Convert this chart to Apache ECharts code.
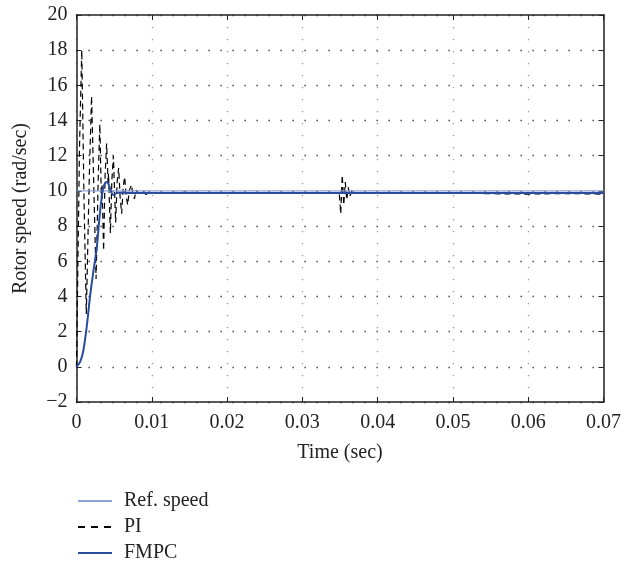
<!DOCTYPE html>
<html>
<head>
<meta charset="utf-8">
<script src="https://cdn.jsdelivr.net/npm/echarts@6/dist/echarts.min.js"></script>
<style>
  html, body { margin: 0; padding: 0; background: #fff; }
  #chart { width: 624px; height: 562px; }
</style>
</head>
<body>
<div id="chart"></div>
<script>
// Rotor speed responses: reference, PI controller and FMPC controller
const seriesNames = ['Ref. speed', 'PI', 'FMPC'];

// Reference speed (rad/sec), constant step to 10
const refTime  = [0, 0.07];
const refSpeed = [10, 10];

// PI response: strong decaying oscillation, then a disturbance near 0.035 s
const piTime = [
  0, 0.0004, 0.0007, 0.0010, 0.0013, 0.0017, 0.0020, 0.0023, 0.0026, 0.0029,
  0.0031, 0.0033, 0.0034, 0.0036, 0.0038, 0.0040, 0.0042, 0.00425, 0.0045, 0.0047,
  0.0049, 0.0051, 0.0052, 0.0054, 0.0056, 0.0058, 0.0060, 0.0062, 0.0064, 0.0066,
  0.0068, 0.0070, 0.0073, 0.0075, 0.0077, 0.0079, 0.0081, 0.0083, 0.0085, 0.0087,
  0.0090, 0.0092, 0.0095, 0.0100, 0.0150, 0.0200, 0.0250, 0.0300, 0.0349, 0.0351,
  0.0353, 0.0355, 0.0357, 0.0359, 0.0361, 0.0363, 0.0366, 0.0370, 0.0450, 0.0500,
  0.0550, 0.0600, 0.0650, 0.0700
];
const piSpeed = [
  0, 12.5, 18.0, 9.5, 3.0, 10.8, 15.4, 10.2, 5.0, 11.0,
  13.8, 9.6, 10.3, 6.6, 10.9, 12.7, 10.4, 11.0, 7.6, 10.6,
  12.0, 9.4, 8.2, 10.5, 11.3, 9.6, 8.7, 10.2, 10.8, 9.7,
  9.2, 10.0, 10.35, 9.8, 9.55, 10.05, 10.15, 9.85, 9.75, 9.98,
  9.95, 9.8, 9.85, 9.9, 9.92, 9.86, 9.9, 9.88, 9.9, 8.7,
  10.9, 9.2, 10.5, 9.5, 10.2, 9.7, 10.05, 9.88, 9.86, 9.9,
  9.84, 9.82, 9.85, 9.82
];

// FMPC response: smooth rise, small overshoot, fast settling
const fmpcTime = [
  0, 0.0005, 0.0009, 0.00135, 0.0018, 0.0022, 0.0027, 0.0031, 0.0035, 0.0038,
  0.0041, 0.0044, 0.0049, 0.0055, 0.0070, 0.0700
];
const fmpcSpeed = [
  0, 0.3, 0.9, 2.25, 4.0, 5.3, 6.8, 8.7, 10.06, 10.45,
  10.5, 10.2, 9.77, 9.9, 9.88, 9.88
];

// Axis ranges and ticks
const xTicks = [0, 0.01, 0.02, 0.03, 0.04, 0.05, 0.06, 0.07];
const yTicks = [-2, 0, 2, 4, 6, 8, 10, 12, 14, 16, 18, 20];

const zip = (xs, ys) => xs.map((x, i) => [x, ys[i]]);
const FONT = 'Liberation Serif';
const TXT = '#222';

const chart = echarts.init(document.getElementById('chart'), null, { renderer: 'canvas' });

const tickInside = { show: true, inside: true, length: 5, lineStyle: { color: '#222', width: 1 } };
const frameLine = { show: true, onZero: false, lineStyle: { color: '#222', width: 1.5 } };

chart.setOption({
  animation: false,
  backgroundColor: '#fff',
  grid: { left: 76.5, right: 18, top: 15, bottom: 160, containLabel: false },
  legend: {
    data: [
      { name: seriesNames[0] },
      { name: seriesNames[1], lineStyle: { type: [7, 6] } },
      { name: seriesNames[2] }
    ],
    orient: 'vertical',
    left: 77,
    top: 491,
    padding: 0,
    height: 80,
    itemWidth: 34,
    itemHeight: 14,
    itemGap: 6,
    itemStyle: { opacity: 0 },
    textStyle: { fontFamily: FONT, fontSize: 20, color: TXT, lineHeight: 20, padding: [0, 0, 0, 7] }
  },
  xAxis: [
    {
      type: 'value',
      min: xTicks[0],
      max: xTicks[xTicks.length - 1],
      interval: 0.01,
      position: 'bottom',
      name: 'Time (sec)',
      nameLocation: 'middle',
      nameGap: 41,
      nameTextStyle: { fontFamily: FONT, fontSize: 20, color: TXT },
      axisLine: frameLine,
      axisTick: tickInside,
      axisLabel: {
        fontFamily: FONT, fontSize: 20, color: TXT, margin: 11,
        formatter: v => {
          const r = Math.round(v * 100) / 100;
          return r === 0 ? '0' : r.toFixed(2);
        }
      },
      splitLine: { show: true, lineStyle: { color: '#999', width: 1.3, type: [1.3, 10.7] } }
    },
    {
      type: 'value',
      min: xTicks[0],
      max: xTicks[xTicks.length - 1],
      interval: 0.01,
      position: 'top',
      axisLine: frameLine,
      axisTick: tickInside,
      axisLabel: { show: false },
      splitLine: { show: false }
    }
  ],
  yAxis: [
    {
      type: 'value',
      min: yTicks[0],
      max: yTicks[yTicks.length - 1],
      interval: 2,
      position: 'left',
      name: 'Rotor speed (rad/sec)',
      nameLocation: 'middle',
      nameGap: 46,
      nameTextStyle: { fontFamily: FONT, fontSize: 20, color: TXT },
      axisLine: frameLine,
      axisTick: tickInside,
      axisLabel: {
        fontFamily: FONT, fontSize: 20, color: TXT, margin: 9,
        formatter: v => (v < 0 ? '\u2212' + Math.abs(v) : String(v))
      },
      splitLine: { show: true, lineStyle: { color: '#333', width: 1.3, type: [1.3, 10.7] } }
    },
    {
      type: 'value',
      min: yTicks[0],
      max: yTicks[yTicks.length - 1],
      interval: 2,
      position: 'right',
      axisLine: { show: true, onZero: false, lineStyle: { color: '#555', width: 2 } },
      axisTick: tickInside,
      axisLabel: { show: false },
      splitLine: { show: false }
    }
  ],
  series: [
    {
      name: seriesNames[0],
      type: 'line',
      data: zip(refTime, refSpeed),
      symbol: 'none',
      z: 3,
      lineStyle: { color: '#8ba3d8', width: 1.3 },
      itemStyle: { color: '#8ba3d8' }
    },
    {
      name: seriesNames[1],
      type: 'line',
      data: zip(piTime, piSpeed),
      symbol: 'none',
      z: 2,
      lineStyle: { color: '#000', width: 1.2, type: [6, 4] },
      itemStyle: { color: '#000' }
    },
    {
      name: seriesNames[2],
      type: 'line',
      data: zip(fmpcTime, fmpcSpeed),
      symbol: 'none',
      smooth: 0.3,
      z: 4,
      lineStyle: { color: '#2a4c9f', width: 2 },
      itemStyle: { color: '#2a4c9f' }
    }
  ]
});
</script>
</body>
</html>
